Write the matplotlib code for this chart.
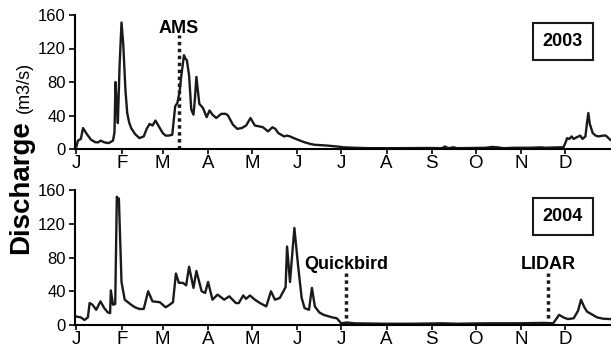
import matplotlib
matplotlib.use("Agg")
import matplotlib.pyplot as plt

plt.rcParams['font.family'] = ['Liberation Sans', 'DejaVu Sans']

# month ticks (day of year)
month_days = [0, 31, 59, 90, 120, 151, 181, 212, 243, 273, 304, 334]
month_labels = ["J", "F", "M", "A", "M", "J", "J", "A", "S", "O", "N", "D"]

# 2003 discharge (day of year, m3/s)
days_2003 = [0, 1, 3, 4.5, 7, 10, 13, 15, 16.5, 19, 22, 25, 26, 26.7, 27.5, 28.3,
             29.5, 30.8, 32, 33.5, 34.7, 36, 37.4, 40, 43, 46, 48, 50, 52, 54, 56,
             59, 61, 63, 65.5, 67.5, 69, 70.5, 71.6, 73.5, 74.5, 75.5, 77, 78.5, 80,
             81, 82, 83, 84, 86.5, 89, 91, 93, 95.6, 99, 102, 103.6, 107, 110, 113,
             116, 119, 122, 125, 127.5, 131, 134, 136, 138, 142, 144, 146, 150, 153,
             156, 160, 163, 168, 172, 178, 183, 190, 200, 220, 240, 250, 252, 254,
             258, 260, 270, 280, 284, 288, 292, 300, 310, 318, 320, 330, 333, 334.5,
             335.5, 337, 338.6, 340, 342, 344.5, 346, 348, 349, 350, 351, 353, 355,
             357, 360, 362, 365]
flow_2003 = [3, 10, 12, 25, 18, 11, 8, 8, 10, 8, 7, 10, 20, 80, 55, 31,
             100, 151, 125, 70, 43, 32, 25, 18, 13, 15, 24, 30, 28, 34, 28,
             19, 16, 16, 17, 51, 55, 68, 86, 112, 108, 106, 88, 47, 41,
             60, 86, 70, 54, 49, 38, 46, 41, 37, 42, 42, 40, 29, 24, 25,
             28, 37, 28, 27, 26, 21, 26, 24, 19, 15, 16, 15, 12, 10,
             8, 6, 5, 4.5, 4, 3, 2, 1.5, 1, 1, 1.2, 1, 3, 1,
             2, 1, 1.2, 1.5, 2.5, 2, 1, 1.5, 1.5, 2, 1.5, 2, 2, 8,
             13, 12, 15, 12, 14, 16, 12, 15, 30, 43, 30, 19, 16,
             15, 16, 16, 11]

# 2004 discharge
days_2004 = [0, 3, 5.5, 7.8, 9, 11, 13.5, 16.4, 19, 21.4, 23, 23.5, 25, 26.5, 27.6,
             28.3, 29, 30.8, 33, 37.4, 40, 43, 46, 49, 52, 57, 61, 63.7, 66, 68, 70,
             72.7, 75, 77, 80, 82, 85.6, 88, 90, 93, 96.5, 101, 104.5, 109, 111, 114,
             116, 118.6, 122, 125.5, 129.8, 133, 135.7, 139, 141.5, 143, 144, 146, 149,
             151.5, 154, 156, 159, 161, 163, 166, 169, 175, 178, 181, 185, 190, 210,
             230, 250, 260, 280, 300, 320, 326, 330, 333, 336, 340, 343, 345, 347, 349,
             352, 356, 360, 365]
flow_2004 = [10, 9, 6, 9, 26, 24, 18, 28, 20, 15, 14, 41, 24, 25, 152,
             148, 150, 51, 30, 24, 21, 19, 19, 40, 28, 27, 21, 24, 27, 61, 50,
             50, 47, 69, 44, 64, 40, 38, 51, 30, 36, 30, 34, 26, 26, 35,
             31, 35, 30, 26, 22, 40, 30, 32, 40, 45, 93, 51, 115,
             71, 32, 20, 18, 44, 22, 15, 12, 9, 8, 2, 3, 2, 1.5,
             1.5, 2, 1.5, 2, 2, 2.5, 2, 12, 9, 7, 8, 17, 30, 22, 16,
             13, 9, 7.5, 7]

# acquisition dates (day of year)
ams_day = 70
quickbird_day = 184.3
lidar_day = 322.3

line_col = "#1a1a1a"

fig = plt.figure(figsize=(6.11, 3.51), dpi=100)
ax1 = fig.add_axes([75/611, 1-149/351, 536/611, 134/351])
ax2 = fig.add_axes([75/611, 1-325/351, 536/611, 135/351])

for ax, d, q, yr in [(ax1, days_2003, flow_2003, "2003"), (ax2, days_2004, flow_2004, "2004")]:
    ax.plot(d, q, color=line_col, lw=1.7, solid_joinstyle="round")
    ax.set_xlim(-1, 365.5)
    ax.set_ylim(0, 160)
    ax.set_yticks([0, 40, 80, 120, 160])
    ax.set_xticks(month_days)
    ax.set_xticklabels(month_labels)
    ax.spines['top'].set_visible(False)
    ax.spines['right'].set_visible(False)
    ax.spines['left'].set_linewidth(1.5)
    ax.spines['bottom'].set_linewidth(1.5)
    ax.tick_params(axis='y', direction='out', length=4.5, width=1.2, labelsize=12, pad=2)
    ax.tick_params(axis='x', direction='out', length=3.5, width=1.2, labelsize=13.5, pad=1)
    ax.text(0.91, 0.805, yr, transform=ax.transAxes, ha='center', va='center',
            fontsize=13, fontweight='bold',
            bbox=dict(boxstyle='square,pad=0.55', fc='white', ec=line_col, lw=1.5))

dots = (0, (1, 1))
ax1.plot([ams_day, ams_day], [0, 136], color=line_col, lw=2.5, ls=dots)
ax1.text(ams_day, 138, "AMS", ha='center', va='baseline', fontsize=13, fontweight='bold')

ax2.plot([quickbird_day, quickbird_day], [0, 62], color=line_col, lw=2.5, ls=dots)
ax2.text(quickbird_day, 66, "Quickbird", ha='center', va='baseline', fontsize=13, fontweight='bold')
ax2.plot([lidar_day, lidar_day], [0, 62], color=line_col, lw=2.5, ls=dots)
ax2.text(lidar_day, 66, "LIDAR", ha='center', va='baseline', fontsize=13, fontweight='bold')

fig.text(21/611, 1-254/351, "Discharge", rotation=90, ha='center', va='bottom',
         fontsize=20, fontweight='bold')
fig.text(24/611, 1-113/351, "(m3/s)", rotation=90, ha='center', va='bottom', fontsize=13)

fig.savefig("out.png", dpi=100)
